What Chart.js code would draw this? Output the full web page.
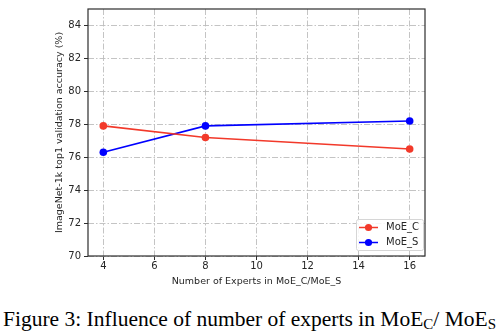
<!DOCTYPE html>
<html>
<head>
<meta charset="utf-8">
<script src="https://cdn.jsdelivr.net/npm/chart.js@4.4.1/dist/chart.umd.min.js"></script>
<style>
    html, body {
        margin: 0;
        padding: 0;
        background: #ffffff;
    }

    #page {
        position: relative;
        width: 503px;
        height: 336px;
        overflow: hidden;
    }

    #chart-box {
        position: absolute;
        left: 0;
        top: 0;
        width: 503px;
        height: 290px;
    }

    #caption {
        position: absolute;
        left: 3px;
        top: 307px;
        font-family: "Liberation Serif", "Times New Roman", serif;
        font-size: 21.5px;
        line-height: 24px;
        color: #000000;
        white-space: nowrap;
    }

    #caption sub {
        font-size: 15px;
        vertical-align: -3px;
        line-height: 0;
    }
</style>
</head>
<body>
<div id="page">
    <div id="chart-box">
        <canvas id="experts-chart" width="503" height="290"></canvas>
    </div>
    <div id="caption">Figure 3: Influence of number of experts in MoE<sub>C</sub>/ MoE<sub>S</sub></div>
</div>

<script>
// =========================================================
// DATA
// =========================================================

const expertCounts = [4, 8, 16];
const moeCAccuracy = [77.9, 77.2, 76.5];
const moeSAccuracy = [76.3, 77.9, 78.2];

const xTickValues = [4, 6, 8, 10, 12, 14, 16];
const yTickValues = [70, 72, 74, 76, 78, 80, 82, 84];

const seriesNames = ["MoE_C", "MoE_S"];
const seriesColors = ["#f2392a", "#0000ff"];

// =========================================================
// HELPERS
// =========================================================

function toPoints(values) {
    return expertCounts.map(function (count, index) {
        return { x: count, y: values[index] };
    });
}

function useFixedTicks(values) {
    return function (scale) {
        scale.ticks = values.map(value => ({ value: value }));
    };
}

// frame round the plot, like the matplotlib spines
const framePlugin = {
    id: "frame",
    afterDatasetsDraw(chart) {
        const area = chart.chartArea;
        const context = chart.ctx;

        context.save();
        context.strokeStyle = "#2e2e2e";
        context.lineWidth = 1.2;
        context.strokeRect(area.left, area.top, area.right - area.left, area.bottom - area.top);
        context.restore();
    }
};

// boxed legend in the lower right corner, line with marker
const boxedLegendPlugin = {
    id: "boxedLegend",
    afterDraw(chart) {
        const area = chart.chartArea;
        const context = chart.ctx;

        const boxWidth = 67;
        const boxHeight = 31;
        const boxLeft = area.right - 2 - boxWidth;
        const boxTop = area.bottom - 6 - boxHeight;

        context.save();
        context.fillStyle = "rgba(255, 255, 255, 0.85)";
        context.strokeStyle = "#d6d6d6";
        context.lineWidth = 1;
        context.beginPath();
        context.roundRect(boxLeft + 0.5, boxTop + 0.5, boxWidth, boxHeight, 2);
        context.fill();
        context.stroke();

        context.font = "10px 'DejaVu Sans'";
        context.textBaseline = "middle";

        for (let seriesIndex = 0; seriesIndex < seriesNames.length; seriesIndex++) {
            const rowY = boxTop + 8.5 + seriesIndex * 15;
            const lineStart = boxLeft + 3;
            const lineEnd = boxLeft + 22;

            context.strokeStyle = seriesColors[seriesIndex];
            context.lineWidth = 1.5;
            context.beginPath();
            context.moveTo(lineStart, rowY);
            context.lineTo(lineEnd, rowY);
            context.stroke();

            context.fillStyle = seriesColors[seriesIndex];
            context.beginPath();
            context.arc((lineStart + lineEnd) / 2, rowY, 3.6, 0, Math.PI * 2);
            context.fill();

            context.fillStyle = "#262626";
            context.fillText(seriesNames[seriesIndex], boxLeft + 30, rowY);
        }

        context.restore();
    }
};

// =========================================================
// CHART
// =========================================================

const tickFont = { family: "DejaVu Sans", size: 10 };
const titleFont = { family: "DejaVu Sans", size: 9.5 };
const gridColor = "#bdbdbd";
const gridDash = [6, 2, 1.5, 2];

new Chart(document.getElementById("experts-chart"), {
    type: "line",
    data: {
        datasets: [
            {
                label: seriesNames[0],
                data: toPoints(moeCAccuracy),
                borderColor: seriesColors[0],
                backgroundColor: seriesColors[0],
                borderWidth: 1.6,
                pointRadius: 3.8,
                pointBorderWidth: 0,
                fill: false,
                tension: 0
            },
            {
                label: seriesNames[1],
                data: toPoints(moeSAccuracy),
                borderColor: seriesColors[1],
                backgroundColor: seriesColors[1],
                borderWidth: 1.6,
                pointRadius: 3.8,
                pointBorderWidth: 0,
                fill: false,
                tension: 0
            }
        ]
    },
    options: {
        responsive: false,
        animation: false,
        layout: {
            padding: {
                top: 6,
                right: 78,
                bottom: 0,
                left: 50
            }
        },
        scales: {
            x: {
                type: "linear",
                min: 3.4,
                max: 16.6,
                afterBuildTicks: useFixedTicks(xTickValues),
                afterFit(scale) {
                    scale.height = 34;
                },
                ticks: {
                    font: tickFont,
                    color: "#262626",
                    padding: 0,
                    maxRotation: 0
                },
                grid: {
                    color: gridColor,
                    lineWidth: 0.9,
                    tickLength: 4,
                    tickColor: "#2e2e2e",
                    tickWidth: 1
                },
                border: {
                    display: false,
                    dash: gridDash
                },
                title: {
                    display: true,
                    text: "Number of Experts in MoE_C/MoE_S",
                    font: titleFont,
                    color: "#262626",
                    padding: { top: 0, bottom: 3 }
                }
            },
            y: {
                type: "linear",
                min: 70,
                max: 85,
                afterBuildTicks: useFixedTicks(yTickValues),
                afterFit(scale) {
                    scale.width = 38;
                },
                ticks: {
                    font: tickFont,
                    color: "#262626",
                    padding: 3
                },
                grid: {
                    color: gridColor,
                    lineWidth: 0.9,
                    tickLength: 4,
                    tickColor: "#2e2e2e",
                    tickWidth: 1
                },
                border: {
                    display: false,
                    dash: gridDash
                },
                title: {
                    display: true,
                    text: "ImageNet-1k top1 validation accuracy (%)",
                    font: titleFont,
                    color: "#262626",
                    padding: { top: 4, bottom: 0 }
                }
            }
        },
        plugins: {
            legend: {
                display: false
            },
            tooltip: {
                enabled: false
            }
        }
    },
    plugins: [framePlugin, boxedLegendPlugin]
});
</script>
</body>
</html>
